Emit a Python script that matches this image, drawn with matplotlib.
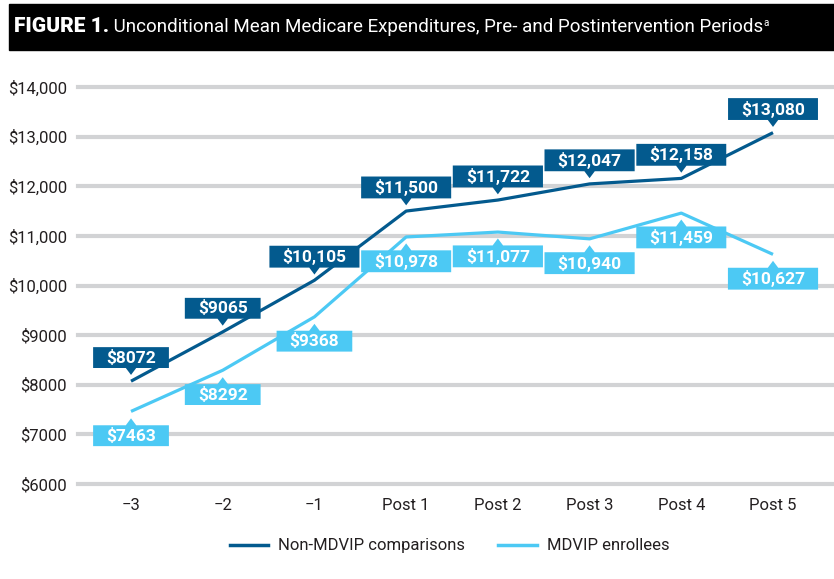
import numpy as np
import matplotlib
matplotlib.use("Agg")
import matplotlib.pyplot as plt
from matplotlib.path import Path
from matplotlib.patches import Rectangle
from matplotlib.lines import Line2D
from matplotlib.text import Annotation

plt.rcParams["font.family"] = ["Roboto", "DejaVu Sans"]

# data
periods = ["\u22123", "\u22122", "\u22121", "Post 1", "Post 2", "Post 3", "Post 4", "Post 5"]
non_mdvip = [8072, 9065, 10105, 11500, 11722, 12047, 12158, 13080]
mdvip = [7463, 8292, 9368, 10978, 11077, 10940, 11459, 10627]
yticks = [6000, 7000, 8000, 9000, 10000, 11000, 12000, 13000, 14000]

DARK = "#035a8e"
LIGHT = "#4cc9f4"
GRID = "#d2d3d5"
TXT = "#231f20"


def fmt(v):
    return f"${v:,}" if v >= 10000 else f"${v}"


def make_box(pointer):
    # rectangle with a small triangular pointer, pointer = "down" or "up"
    def box(x0, y0, width, height, mutation_size):
        px = 0.75 * mutation_size
        py = 0.14 * mutation_size
        x0, x1 = x0 - px, x0 + width + px
        y0, y1 = y0 - py, y0 + height + py
        cx = 0.5 * (x0 + x1)
        tw, th = 0.3 * mutation_size, 0.4 * mutation_size
        if pointer == "down":
            verts = [(x0, y0), (cx - tw, y0), (cx, y0 - th), (cx + tw, y0),
                     (x1, y0), (x1, y1), (x0, y1), (x0, y0)]
        else:
            verts = [(x0, y0), (x1, y0), (x1, y1), (cx + tw, y1), (cx, y1 + th),
                     (cx - tw, y1), (x0, y1), (x0, y0)]
        codes = [Path.MOVETO] + [Path.LINETO] * (len(verts) - 2) + [Path.CLOSEPOLY]
        return Path(verts, codes)
    return box


fig = plt.figure(figsize=(8.34, 5.79), dpi=100)
ax = fig.add_axes([78 / 834, 1 - 484 / 579, 1 - 78 / 834, (484 - 87) / 579])

# title bar
fig.patches.append(Rectangle((9 / 834, 1 - 50 / 579), 1 - 9 / 834, 46 / 579,
                             transform=fig.transFigure, color="black", zorder=-1))
t1 = fig.text(14 / 834, 1 - 27 / 579, "FIGURE 1.", color="white", fontsize=15,
              fontweight="black", va="center", ha="left", zorder=5)
t2 = Annotation(" Unconditional Mean Medicare Expenditures, Pre- and Postintervention Periods",
                xy=(1, 0.02), xycoords=t1, va="bottom", ha="left", color="white",
                fontsize=13.5, zorder=5)
fig.add_artist(t2)
t3 = Annotation("a", xy=(1, 0.45), xycoords=t2, va="bottom", ha="left", color="white",
                fontsize=7, zorder=5)
fig.add_artist(t3)

x = np.arange(len(periods))

for yt in yticks:
    ax.axhline(yt, color=GRID, lw=3, zorder=1, clip_on=False)

ax.plot(x, non_mdvip, color=DARK, lw=2.3, zorder=3, solid_capstyle="butt")
ax.plot(x, mdvip, color=LIGHT, lw=2.3, zorder=3, solid_capstyle="butt")

for xi, v in zip(x, non_mdvip):
    ax.annotate(fmt(v), xy=(xi, v), xytext=(0, 17), textcoords="offset points",
                ha="center", va="center", color="white", fontsize=12.5, fontweight="bold",
                bbox=dict(boxstyle=make_box("down"), fc=DARK, ec="none"), zorder=5)
for xi, v in zip(x, mdvip):
    ax.annotate(fmt(v), xy=(xi, v), xytext=(0, -17.5), textcoords="offset points",
                ha="center", va="center", color="white", fontsize=12.5, fontweight="bold",
                bbox=dict(boxstyle=make_box("up"), fc=LIGHT, ec="none"), zorder=5)

ax.set_xlim(-0.578, 7.665)
ax.set_ylim(6000, 14000)
ax.set_xticks(x)
ax.set_xticklabels(periods, fontsize=12, color=TXT)
ax.set_yticks(yticks)
ax.set_yticklabels([fmt(v) for v in yticks], fontsize=12, color=TXT)
ax.tick_params(length=0, axis="y", pad=8)
ax.tick_params(length=0, axis="x", pad=10)
for s in ax.spines.values():
    s.set_visible(False)

handles = [Line2D([], [], color=DARK, lw=2.5), Line2D([], [], color=LIGHT, lw=2.5)]
fig.legend(handles, ["Non-MDVIP comparisons", "MDVIP enrollees"], loc="center",
           bbox_to_anchor=(0.539, 0.057), ncol=2, frameon=False, fontsize=12,
           handlelength=2.3, handletextpad=0.6, columnspacing=2.0, labelcolor=TXT)

fig.savefig("out.png", dpi=100)
